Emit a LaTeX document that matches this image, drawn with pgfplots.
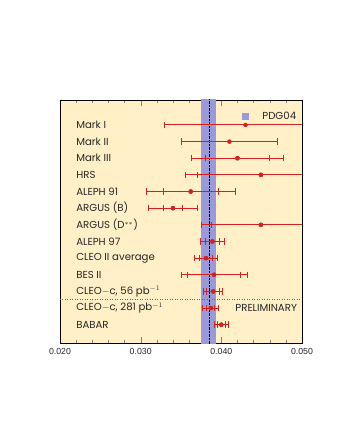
\documentclass[border=0pt]{standalone}
\usepackage{fontspec}
\setmainfont{Liberation Sans}
\newfontfamily\labfont{Poppins}
\usepackage{pgfplots}
\pgfplotsset{compat=1.18}
\definecolor{bg}{HTML}{FFF0C8}
\definecolor{band}{HTML}{9A9ADB}
\definecolor{bar}{HTML}{D42020}
\begin{document}
\begin{tikzpicture}
\begin{axis}[
  name=a,
  width=242bp, height=243bp, scale only axis,
  xmin=0.020, xmax=0.050, ymin=-0.1, ymax=14.5,
  axis background/.style={fill=bg},
  xtick={0.020,0.030,0.040,0.050},
  minor x tick num=4,
  ytick=\empty,
  scaled x ticks=false,
  xticklabel style={/pgf/number format/.cd, fixed, fixed zerofill, precision=3, assume math mode=true},
  tick label style={font=\fontsize{8.8}{10}\selectfont, text=black!85},
  xticklabel shift=1.5bp,
  xtick pos=both, tick align=inside,
  major tick length=6bp, minor tick length=3.5bp,
  axis line style={line width=0.7pt},
  legend style={at={(rel axis cs:0.985,0.948)}, anchor=east, draw=none, fill=none,
    inner sep=0pt, font=\labfont\fontsize{10.2}{11}\selectfont, text=black!85},
  legend image code/.code={\path (-3.5bp,0) -- (15bp,0);
    \fill[band] (-3.5bp,-3.5bp) rectangle (3.5bp,3.5bp);},
  legend cell align=left,
]
% PDG04 band and central value
\addplot[fill=band, draw=none] coordinates {(0.0375,-1) (0.0375,20) (0.0393,20) (0.0393,-1)} -- cycle;
\addlegendentry{PDG04}
\addplot[black, line width=0.45pt, dash pattern=on 0.7pt off 0.7pt, forget plot] coordinates {(0.0385,-1) (0.0385,20)};
\addplot[gray!80!black, line width=0.5pt, dash pattern=on 1pt off 1.5pt, forget plot] coordinates {(0.020,2.5) (0.050,2.5)};
% total errors
\addplot[bar, only marks, mark=*, mark size=2pt, forget plot,
  error bars/.cd, x dir=both, x explicit,
  error bar style={line width=1pt, bar},
  error mark options={rotate=90, mark size=3.2bp, line width=1pt, bar}]
coordinates {
(0.0430,13) +- (0.0100,0)
(0.0410,12) +- (0.0060,0)
(0.0420,11) +- (0.0057,0)
(0.0449,10) +- (0.0094,0)
(0.0362,9) +- (0.0055,0)
(0.0340,8) +- (0.0030,0)
(0.0449,7) +- (0.0073,0)
(0.0389,6) +- (0.0015,0)
(0.0381,5) +- (0.0014,0)
(0.0391,4) +- (0.0041,0)
(0.0390,3) +- (0.0012,0)
(0.0387,2) +- (0.0010,0)
(0.0400,1) +- (0.0009,0)
};
% statistical errors
\addplot[bar, only marks, mark=*, mark size=2pt, forget plot,
  error bars/.cd, x dir=both, x explicit,
  error bar style={line width=1pt, bar},
  error mark options={rotate=90, mark size=3.2bp, line width=1pt, bar}]
coordinates {
(0.0420,11) +- (0.0040,0)
(0.0449,10) +- (0.0079,0)
(0.0362,9) +- (0.0034,0)
(0.0340,8) +- (0.0012,0)
(0.0449,7) +- (0.0061,0)
(0.0389,6) +- (0.0009,0)
(0.0381,5) +- (0.0008,0)
(0.0391,4) +- (0.0033,0)
(0.0390,3) +- (0.0008,0)
(0.0387,2) +- (0.0005,0)
(0.0400,1) +- (0.0005,0)
};
\begin{scope}[every node/.style={anchor=west, inner sep=0pt, text=black!85, font=\labfont\fontsize{10.2}{11}\selectfont}]
\node at (axis cs:0.0220,13) {Mark I};
\node at (axis cs:0.0220,12) {Mark II};
\node at (axis cs:0.0220,11) {Mark III};
\node at (axis cs:0.0220,10) {HRS};
\node at (axis cs:0.0220,9) {ALEPH 91};
\node at (axis cs:0.0220,8) {ARGUS (B)};
\node at (axis cs:0.0220,7) {ARGUS (D$^{**}$)};
\node at (axis cs:0.0220,6) {ALEPH 97};
\node at (axis cs:0.0220,5) {CLEO II average};
\node at (axis cs:0.0220,4) {BES II};
\node at (axis cs:0.0220,3) {CLEO$-$c, 56 pb$^{-1}$};
\node at (axis cs:0.0220,2) {CLEO$-$c, 281 pb$^{-1}$};
\node at (axis cs:0.0220,1) {BABAR};
\node[anchor=east] at (axis cs:0.0494,2) {PRELIMINARY};
\end{scope}
\end{axis}
\pgfresetboundingbox
\path ([shift={(-60bp,-105bp)}]a.south west) rectangle ([shift={(44bp,100bp)}]a.north east);
\end{tikzpicture}
\end{document}
